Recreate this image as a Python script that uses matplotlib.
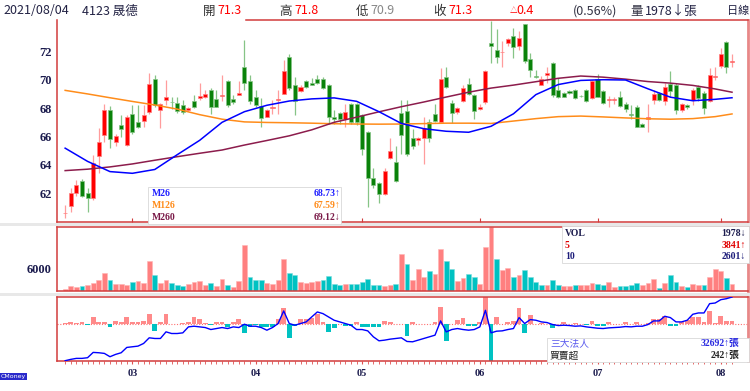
import numpy as np
import matplotlib.pyplot as plt
from matplotlib.patches import Rectangle

# ---- daily bars (4123 晟德, 2021/02 .. 2021/08/04) ----
opens = [60.6, 61.1, 62.05, 62.9, 62.05, 61.7, 64.6, 66.1, 67.9, 65.6,
         66.8, 65.4, 67.6, 67.05, 67.1, 67.7, 70.07, 67.9, 68.6, 68.45,
         68.35, 68.2, 67.85, 68.5, 68.7, 68.75, 69.25, 68.65, 68.85, 69.9,
         68.65, 68.95, 70.9, 69.9, 68.8, 68.16, 67.4, 68.0, 68.55, 69.0,
         71.6, 69.6, 69.2, 69.9, 69.8, 70.07, 70.07, 69.6, 67.4, 67.65,
         67.2, 68.3, 68.3, 67.5, 66.35, 63.1, 62.7, 61.95, 64.5, 64.2,
         67.65, 67.8, 65.9, 65.76, 65.9, 67.05, 67.6, 67.05, 70.2, 68.35,
         67.7, 68.5, 69.7, 68.9, 67.95, 68.4, 72.6, 72.07, 71.93, 72.6,
         73.06, 72.4, 73.9, 71.46, 70.27, 69.65, 70.3, 71.2, 69.25, 69.06,
         69.2, 69.3, 68.88, 69.3, 68.7, 70.05, 69.2, 68.57, 68.57, 68.75,
         68.28, 67.6, 68.07, 66.9, 67.22, 68.6, 69.06, 68.5, 69.7, 69.65,
         67.9, 68.2, 68.6, 69.5, 69.06, 68.5, 70.22, 71.0, 72.66, 71.28]
highs = [61.2, 62.35, 62.95, 63.0, 62.4, 64.7, 66.6, 68.3, 68.15, 66.2,
         67.5, 67.55, 68.2, 68.2, 68.25, 70.5, 70.35, 68.35, 70.0, 68.8,
         68.8, 68.6, 68.05, 68.9, 69.8, 69.3, 69.4, 69.25, 70.3, 69.95,
         68.95, 69.9, 72.8, 70.3, 69.3, 68.7, 67.95, 68.6, 69.3, 71.4,
         71.8, 70.2, 69.6, 70.0, 70.1, 70.35, 70.2, 69.7, 67.9, 67.7,
         68.3, 68.35, 68.35, 67.6, 66.4, 63.75, 62.8, 63.8, 65.9, 65.3,
         68.6, 68.6, 66.5, 66.0, 67.4, 67.2, 68.3, 70.8, 70.9, 68.6,
         68.1, 69.6, 70.1, 69.0, 68.3, 70.7, 74.1, 73.55, 72.7, 72.95,
         73.65, 73.4, 73.95, 71.9, 70.7, 70.24, 70.9, 71.25, 70.1, 69.1,
         69.25, 69.35, 68.9, 69.35, 69.95, 70.4, 69.25, 68.87, 68.8, 69.2,
         68.4, 68.25, 68.2, 66.95, 68.3, 69.3, 69.1, 69.75, 70.6, 69.75,
         68.35, 68.3, 69.4, 69.6, 69.2, 70.85, 70.9, 72.2, 72.7, 71.8]
lows = [60.25, 60.7, 61.8, 61.75, 60.7, 61.55, 63.4, 65.6, 65.2, 65.3,
        66.0, 65.35, 66.2, 66.6, 66.7, 67.6, 68.1, 66.6, 68.2, 67.95,
        67.65, 67.6, 67.8, 68.0, 68.6, 68.7, 67.6, 68.05, 68.5, 68.1,
        68.3, 68.9, 69.3, 68.3, 68.1, 66.7, 67.35, 67.6, 67.6, 69.0,
        69.3, 67.5, 69.15, 69.4, 69.6, 69.7, 69.35, 66.9, 66.85, 66.9,
        66.65, 66.9, 66.8, 64.7, 61.05, 62.4, 61.35, 61.9, 64.45, 62.8,
        64.8, 64.6, 65.1, 65.4, 64.1, 65.6, 67.0, 67.0, 69.4, 66.95,
        67.6, 68.45, 68.9, 67.2, 67.85, 68.3, 71.2, 71.2, 70.9, 72.4,
        71.5, 72.1, 71.2, 70.2, 70.1, 69.6, 69.8, 68.8, 68.7, 68.75,
        69.0, 68.65, 68.8, 68.4, 68.65, 68.75, 68.3, 68.07, 68.3, 68.05,
        67.75, 67.2, 66.65, 66.65, 66.3, 68.3, 68.5, 68.2, 68.8, 67.6,
        67.75, 67.95, 68.2, 68.5, 67.6, 68.4, 70.0, 70.8, 70.5, 70.9]
closes = [60.65, 62.0, 62.6, 61.8, 61.7, 64.15, 65.6, 67.9, 65.8, 66.07,
          66.5, 67.4, 66.3, 66.7, 67.5, 69.7, 68.2, 68.3, 68.75, 68.4,
          67.8, 67.75, 68.0, 68.07, 68.85, 69.0, 68.1, 68.1, 68.95, 68.2,
          68.4, 69.05, 69.75, 68.5, 68.2, 67.3, 67.9, 68.1, 68.65, 70.6,
          69.4, 68.5, 69.5, 69.5, 69.65, 69.75, 69.4, 67.4, 67.25, 67.2,
          67.7, 67.0, 67.0, 65.1, 63.1, 62.6, 61.95, 63.6, 65.0, 62.9,
          66.1, 64.8, 65.3, 65.93, 66.6, 65.9, 67.1, 70.07, 69.5, 67.65,
          68.0, 69.4, 69.0, 67.8, 68.05, 70.6, 72.4, 71.6, 71.97, 72.9,
          72.3, 72.94, 71.3, 70.7, 70.22, 70.05, 70.5, 68.9, 68.8, 68.8,
          69.06, 68.7, 68.83, 68.5, 69.9, 68.8, 68.35, 68.61, 68.61, 68.12,
          67.93, 67.55, 66.7, 66.7, 67.36, 69.0, 68.6, 69.5, 69.2, 67.9,
          68.3, 68.1, 69.3, 68.7, 68.0, 70.3, 70.28, 71.8, 70.9, 71.32]

# volume (張) and its colour flag (1 = up/pink, 0 = down/teal)
volume = [690, 1290, 1200, 1290, 1540, 2140, 3000, 4710, 3000, 1890,
          1970, 1540, 2310, 2570, 2140, 7880, 4290, 2140, 3000, 2060,
          1710, 1460, 1890, 2400, 2740, 1540, 2060, 1460, 3260, 1710,
          1110, 2740, 12170, 3770, 3000, 3000, 2060, 1970, 3000, 8310,
          4890, 4290, 2400, 2140, 2310, 2570, 2910, 4030, 1970, 1540,
          1970, 1890, 1800, 2400, 3260, 1710, 1540, 1290, 1630, 1800,
          9680, 7030, 3000, 5830, 3860, 5310, 4460, 11140, 7970, 5740,
          2570, 3430, 4460, 3600, 1890, 11480, 16800, 8400, 5570, 6170,
          3860, 4290, 5570, 3600, 2490, 1710, 1710, 3000, 1710, 1460,
          1290, 1540, 1540, 1710, 2060, 1970, 1540, 2400, 1030, 1290,
          1290, 1540, 2140, 1710, 2140, 3260, 860, 2140, 4290, 2310,
          1290, 1030, 1890, 1540, 1710, 3690, 5830, 5310, 3430, 1978]
vol_up = [1, 1, 1, 0, 1, 1, 1, 1, 0, 1, 1, 1, 0, 1, 1, 1, 0, 1, 1, 0,
          0, 0, 1, 1, 1, 1, 0, 1, 1, 0, 1, 1, 1, 0, 0, 0, 1, 1, 1, 1,
          0, 0, 1, 1, 1, 1, 0, 0, 0, 0, 1, 0, 0, 0, 0, 0, 0, 1, 1, 0,
          1, 0, 1, 1, 1, 0, 1, 1, 0, 0, 1, 1, 0, 0, 1, 1, 1, 0, 1, 1,
          0, 1, 0, 0, 0, 0, 1, 0, 0, 1, 1, 0, 1, 1, 1, 0, 0, 1, 1, 0,
          0, 0, 0, 1, 1, 1, 0, 1, 0, 0, 1, 0, 1, 1, 0, 1, 1, 1, 0, 1]

# 三大法人 daily net buy/sell (張) and the cumulative line
inst_net = [54, 135, 108, 162, -54, 540, 135, 135, -216, 270,
            135, 540, 189, 189, 270, 810, -540, 189, 810, -27,
            27, 54, 135, 540, 405, 54, -54, 135, 189, -216,
            189, 405, -702, -216, -54, -216, -216, -216, 378, 1269,
            -1107, -162, 378, 378, 459, 810, 135, -621, -351, 27,
            -162, -162, 189, -216, -216, -216, -216, 270, 135, 27,
            27, -972, 189, 27, 27, -27, 135, 1404, -1350, 27,
            324, 459, -162, -162, 135, 2214, -2970, 594, 27, 135,
            270, 1269, -702, 729, 27, 54, 27, -351, 27, 135,
            27, 54, 27, -54, 270, -162, -162, 135, 27, 27,
            135, 27, 189, 27, 54, 378, 378, 648, -135, -135,
            189, 324, 540, 540, 189, 1080, 54, 648, 243, 242]
inst_cum = [25396, 25548, 25662, 25662, 25738, 26346, 26308, 26232, 25852, 26118,
            26308, 26916, 26992, 27068, 27372, 28018, 27942, 27942, 28702, 28512,
            28512, 28588, 29272, 29348, 29272, 29196, 28968, 29082, 29196, 29082,
            29272, 29196, 29576, 29348, 29348, 29196, 28892, 29196, 29652, 31096,
            29652, 29462, 29652, 29842, 30412, 30982, 30792, 30412, 30032, 29842,
            29652, 29462, 28968, 28968, 28816, 28132, 27676, 27752, 27866, 27942,
            28018, 27600, 27562, 27752, 27942, 28132, 28322, 29956, 28702, 28968,
            29082, 28968, 28892, 28968, 29272, 31172, 28588, 28778, 28816, 28968,
            29082, 30336, 29652, 30108, 30032, 29842, 29766, 29538, 29424, 29462,
            29424, 29348, 29386, 29272, 29196, 29120, 29082, 29158, 29196, 29234,
            29310, 29272, 29348, 29348, 29538, 29956, 29956, 30488, 30336, 29842,
            29842, 30032, 30716, 30868, 30868, 31932, 32008, 32388, 32502, 32692]

# moving averages, read every 4 bars
ma_idx = [0, 4, 8, 12, 16, 20, 24, 28, 32, 36, 40, 44, 48, 52, 56, 60,
          64, 68, 72, 76, 80, 84, 88, 92, 96, 100, 104, 108, 112, 116, 119]
ma26 = [65.18, 64.25, 63.53, 63.41, 63.68, 64.72, 65.73, 67.0, 67.75, 68.2,
        68.5, 68.65, 68.72, 68.48, 67.75, 66.92, 66.55, 66.37, 66.3, 66.72,
        67.6, 68.95, 69.66, 69.95, 70.0, 69.98, 69.36, 68.77, 68.52, 68.62, 68.73]
ma126 = [69.25, 69.0, 68.73, 68.47, 68.22, 67.93, 67.54, 67.22, 67.03, 66.99,
         66.97, 66.94, 66.9, 66.88, 66.87, 66.88, 66.91, 66.94, 66.94, 66.92,
         67.09, 67.26, 67.4, 67.44, 67.38, 67.31, 67.25, 67.22, 67.26, 67.4, 67.59]
ma260 = [63.6, 63.7, 63.86, 64.07, 64.33, 64.58, 64.82, 65.05, 65.4, 65.72,
         66.05, 66.47, 67.0, 67.36, 67.74, 68.1, 68.43, 68.78, 69.12, 69.41,
         69.62, 69.86, 70.1, 70.26, 70.18, 70.04, 69.87, 69.76, 69.6, 69.35, 69.12]

month_idx = [12, 34, 53, 74, 95, 117]
month_lbl = ['03', '04', '05', '06', '07', '08']
price_ticks = [62, 64, 66, 68, 70, 72]
vol_ticks = [6000]

W, H = 750, 391
SERIF = ['Liberation Serif', 'DejaVu Serif']
CJK = ['Noto Sans CJK TC', 'DejaVu Sans']
MIX = ['Liberation Serif', 'Noto Sans CJK TC', 'DejaVu Sans']
NAVY = '#1c1c4e'
RED = '#ff0000'


def fx(px):
    return px / W


def fy(py):
    return 1 - py / H


def panel(x0, y0, x1, y1):
    return fig.add_axes([fx(x0), fy(y1), fx(x1) - fx(x0), fy(y0) - fy(y1)])


def frame(ax):
    for s in ax.spines.values():
        s.set_color('#d23c3c')
        s.set_linewidth(1.1)
    ax.spines['right'].set_color('#e88888')
    ax.spines['right'].set_linewidth(2)
    ax.set_xlim(-1.4, 121.8)


fig = plt.figure(figsize=(7.5, 3.91), dpi=100)

x = np.arange(len(closes))
o, h, l, c = map(np.array, (opens, highs, lows, closes))
up = c >= o

# ---- price panel ----
ax1 = panel(57.3, 19.5, 747.7, 222.3)
frame(ax1)
ax1.vlines(x[up], l[up], h[up], color='#ff9c9c', lw=0.9, zorder=2)
ax1.vlines(x[~up], l[~up], h[~up], color='#86c486', lw=0.9, zorder=2)
lo = np.minimum(o, c)
ht = np.maximum(np.abs(c - o), 0.05)
ax1.bar(x[up], ht[up], bottom=lo[up], width=0.72, color=RED,
        edgecolor='#ff8080', lw=0.5, zorder=3)
ax1.bar(x[~up], ht[~up], bottom=lo[~up], width=0.72, color='#0a820a',
        edgecolor='#86c486', lw=0.5, zorder=3)
ax1.plot(ma_idx, ma126, color='#ff8c1a', lw=1.1, zorder=4)
ax1.plot(ma_idx, ma260, color='#8c1c4c', lw=1.1, zorder=4)
ax1.plot(ma_idx, ma26, color='#0000ff', lw=1.1, zorder=4)
ax1.set_ylim(59.96, 74.24)
ax1.set_yticks(price_ticks)
ax1.set_yticklabels([str(v) for v in price_ticks], family=SERIF,
                    fontweight='bold', fontsize=9, color=NAVY)
ax1.set_xticks(month_idx)
ax1.set_xticklabels([])
ax1.tick_params(axis='y', length=0, pad=4)
ax1.tick_params(axis='x', direction='in', length=3, color='#d23c3c')
ax1.spines['top'].set_bounds(32.3, 121.8)

# ---- volume panel ----
ax2 = panel(57.3, 226.7, 747.7, 291.3)
frame(ax2)
vcol = ['#ff8080' if u else '#00c2c2' for u in vol_up]
vedge = ['#ffb4b4' if u else '#7cdcdc' for u in vol_up]
ax2.bar(x, volume, width=0.86, color=vcol, edgecolor=vedge, lw=0.4, zorder=2)
ax2.set_ylim(0, 16850)
ax2.set_yticks(vol_ticks)
ax2.set_yticklabels([str(v) for v in vol_ticks], family=SERIF,
                    fontweight='bold', fontsize=9, color=NAVY)
ax2.set_xticks([])
ax2.tick_params(axis='y', length=0, pad=4)

# ---- institutional panel ----
ax3 = panel(57.3, 296.7, 747.7, 360.7)
frame(ax3)
inst = np.array(inst_net)
icol = np.where(inst >= 0, '#ff8a8a', '#00c2c2')
ax3.bar(x, inst, width=0.86, color=icol, lw=0, zorder=2)
ax3.axhline(0, color='#ff7070', lw=0.8, ls=(0, (1, 1.5)), zorder=1)
ax3.set_ylim(-2973, 2211)
ax3.set_yticks([])
ax3.set_xticks(month_idx)
ax3.set_xticklabels(month_lbl, family=SERIF, fontweight='bold',
                    fontsize=7.5, color=NAVY)
ax3.set_xticks(x, minor=True)
ax3.tick_params(axis='x', which='both', length=2, color='#e05050', pad=4)
ax3b = ax3.twinx()
ax3b.plot(x, inst_cum, color='#0000ff', lw=1.0, zorder=3)
ax3b.set_ylim(25396, 32730)
ax3b.set_yticks([])
for s in ax3b.spines.values():
    s.set_visible(False)

# ---- separators ----
for y0, y1 in [(223.3, 226), (292.8, 296)]:
    fig.add_artist(Rectangle((0, fy(y1)), 1, fy(y0) - fy(y1), transform=fig.transFigure,
                             facecolor='#e8e8e8', lw=0, zorder=0.5))

# ---- header ----
def head(px, s, color='#222244', size=9):
    fig.text(fx(px), fy(11), s, ha='left', va='center', fontsize=size,
             color=color, family=CJK)


head(3.3, '2021/08/04')
head(81.7, '4123 晟德')
head(202.7, '開', '#333333')
head(217.3, '71.3', RED)
head(279.3, '高', '#333333')
head(294, '71.8', RED)
head(356, '低', '#333333')
head(370, '70.9', '#888888')
head(433.3, '收', '#333333')
head(448.3, '71.3', RED)
head(509.5, '△', RED, 5.5)
head(516, '0.4', RED)
head(573.3, '(0.56%)', '#333344')
head(630, '量', '#333344')
head(645, '1978↓張', '#222244')
head(727, '日線', '#222244', 8)

# ---- legend boxes ----
def box(x0, y0, x1, y1):
    fig.add_artist(Rectangle((fx(x0), fy(y1)), fx(x1) - fx(x0), fy(y0) - fy(y1),
                             transform=fig.transFigure, facecolor='white',
                             edgecolor='#d8d8d8', lw=0.6, zorder=5))


def label(px, py, s, color, ha='left', fam=SERIF, size=7, weight='bold'):
    fig.text(fx(px), fy(py), s, ha=ha, va='center', fontsize=size, color=color,
             family=fam, fontweight=weight, zorder=6)


box(148, 187, 341, 223.5)
ma_lbl = ['M26', 'M126', 'M260']
ma_txt = ['68.73↑', '67.59↑', '69.12↓']
ma_col = ['#2020ff', '#ff8c1a', '#7a1a48']
for k in range(3):
    yy = 193.5 + 12.2 * k
    label(151.5, yy, ma_lbl[k], ma_col[k])
    label(340, yy, ma_txt[k], ma_col[k], ha='right', fam=MIX)

box(561.7, 226, 749, 263.3)
vl_lbl = ['VOL', '5', '10']
vl_txt = ['1978↓', '3841↑', '2601↓']
vl_col = [NAVY, '#e00000', '#1c1c7a']
for k in range(3):
    yy = 233.3 + 11.7 * k
    label(565, yy, vl_lbl[k], vl_col[k])
    label(746, yy, vl_txt[k], vl_col[k], ha='right', fam=MIX)

box(546.7, 337.7, 749, 362)
label(550, 343.5, '三大法人', '#5a5aee', fam=CJK, weight='normal')
label(739.5, 343.5, '32692↑張', '#2a2ae0', ha='right', fam=MIX)
label(550, 355.7, '買賣超', '#222222', fam=CJK, weight='normal')
label(739.5, 355.7, '242↑張', '#222222', ha='right', fam=MIX)

fig.text(fx(1), fy(376.7), 'CMoney', fontsize=4.5, color='white', ha='left', va='center',
         bbox=dict(facecolor='#2a2acb', edgecolor='none', pad=0.8))

fig.savefig('out.png', dpi=100)
